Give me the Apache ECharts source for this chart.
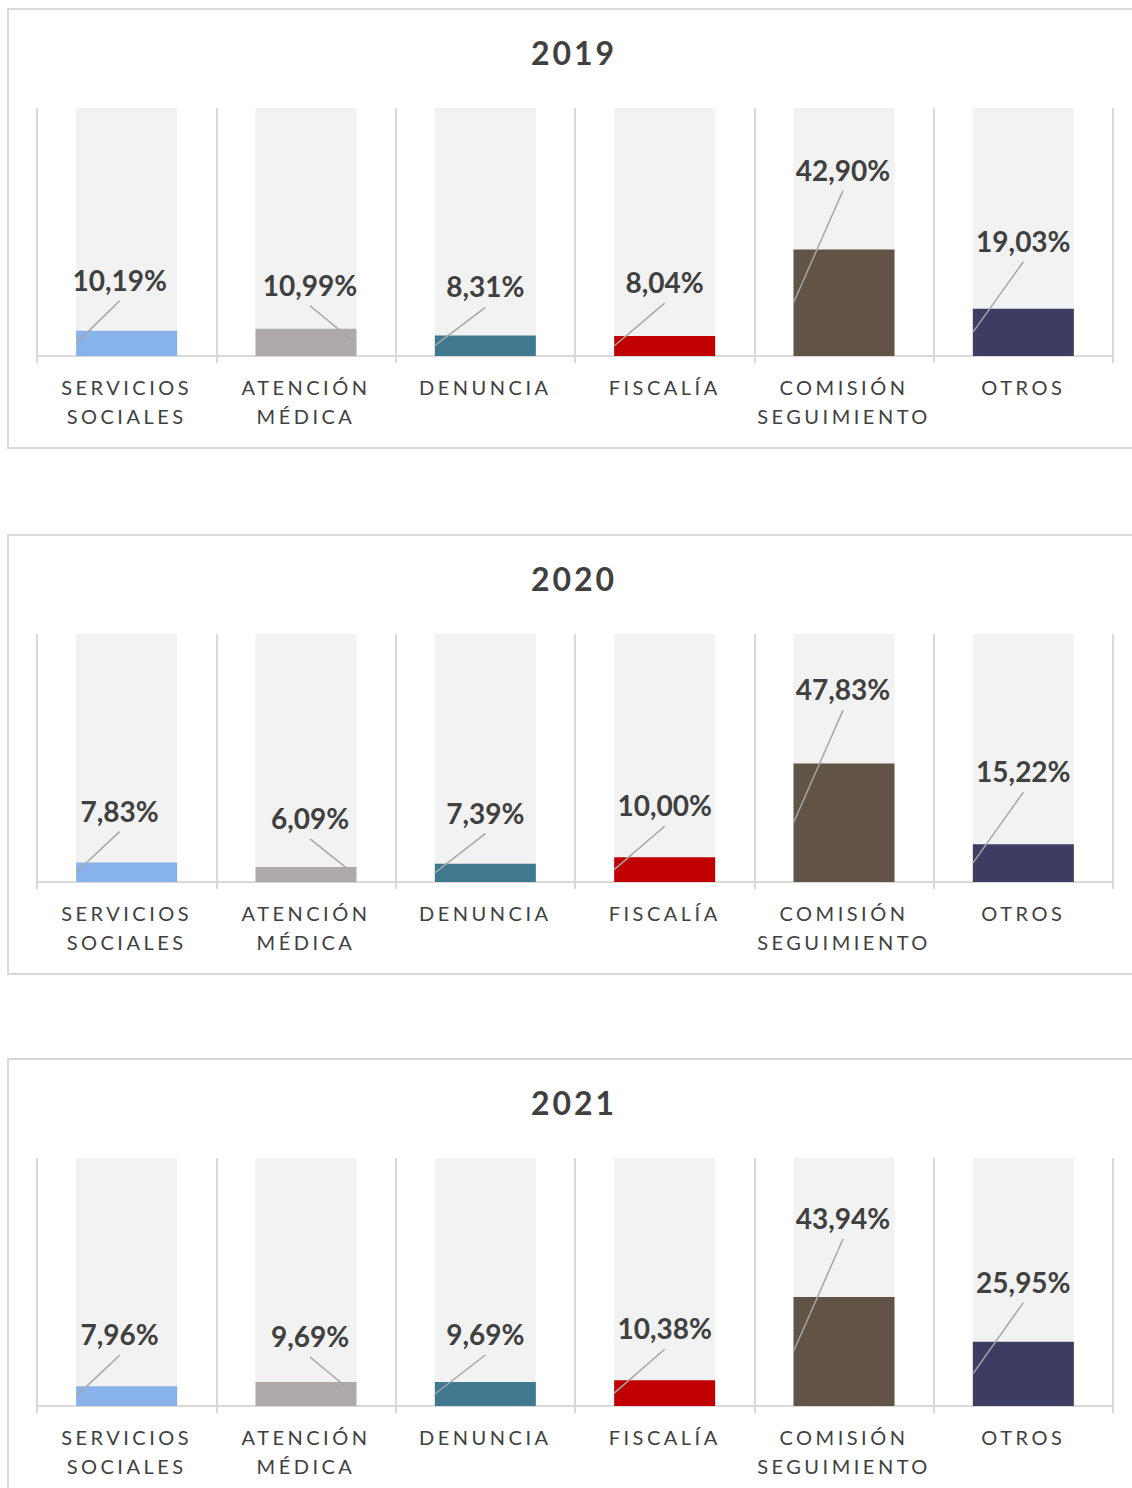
<!DOCTYPE html>
<html>
<head>
<meta charset="utf-8">
<title>2019 - 2021</title>
<script src="https://cdn.jsdelivr.net/npm/echarts@6.0.0/dist/echarts.min.js"></script>
<style>
html, body {
  margin: 0;
  padding: 0;
  width: 1132px;
  height: 1488px;
  overflow: hidden;
  background: #ffffff;
}
.panel {
  position: absolute;
  left: 7px;
  width: 1130px;
  height: 437px;
  border: 2px solid #d9d9d9;
}
.panel .sort-charts {
  width: 100%;
  height: 100%;
}
/* echarts has no letter spacing option, the svg text takes it from css */
.sort-charts text[style*="tracking-title"] {
  letter-spacing: 3px;
}
.sort-charts text[style*="tracking-axis"] {
  letter-spacing: 3.5px;
}
</style>
</head>
<body>
<div class="panel" style="top:8px"><div id="charts-2019" class="sort-charts"></div></div>
<div class="panel" style="top:534px"><div id="charts-2020" class="sort-charts"></div></div>
<div class="panel" style="top:1058px"><div id="charts-2021" class="sort-charts"></div></div>
<script>
const categories = ['SERVICIOS\nSOCIALES', 'ATENCIÓN\nMÉDICA', 'DENUNCIA', 'FISCALÍA', 'COMISIÓN\nSEGUIMIENTO', 'OTROS']
const years = ['2019', '2020', '2021']
const values2019 = [10.19, 10.99, 8.31, 8.04, 42.90, 19.03]
const values2020 = [7.83, 6.09, 7.39, 10.00, 47.83, 15.22]
const values2021 = [7.96, 9.69, 9.69, 10.38, 43.94, 25.95]
const barColors = ['#87b2ea', '#aeaaaa', '#407890', '#c00000', '#615345', '#3d3c63']

// where the data labels sit (px above the bar top), as placed by hand in the original
const labelLift2019 = [51, 44, 49, 54, 80, 68]
const labelLift2020 = [52, 49, 51, 52, 74, 73]
const labelLift2021 = [52, 46, 48, 52, 79, 60]
const labelShift = [-7, 4, 0, 0, -1, 0]
const lineSide = [-1, 1, -1, -1, -1, -1] // -1 leader line to left edge, 1 to right edge

const BAR_WIDTH = 101
const TEXT_COLOR = '#404040'

function formatPct(v) {
  return v.toFixed(2).replace('.', ',') + '%'
}

function getBarCharts(idName, year, values, lift) {
  const charts = echarts.init(document.getElementById(idName), null, { renderer: 'svg' })
  charts.setOption({
    animation: false,
    title: {
      text: year,
      left: 'center',
      top: 21,
      textStyle: {
        color: TEXT_COLOR,
        fontSize: 32,
        fontWeight: 'bold',
        fontFamily: 'Lato, tracking-title'
      }
    },
    grid: {
      left: 28,
      top: 98,
      width: 1076,
      height: 248
    },
    xAxis: {
      type: 'category',
      data: categories,
      axisLine: {
        lineStyle: { color: '#d9d9d9', width: 2 }
      },
      axisTick: {
        show: true,
        length: 7,
        lineStyle: { color: '#d9d9d9', width: 2 }
      },
      splitLine: {
        show: true,
        lineStyle: { color: '#d9d9d9', width: 2 }
      },
      axisLabel: {
        interval: 0, // 显示所有标签
        margin: 16,
        color: TEXT_COLOR,
        fontSize: 20,
        lineHeight: 29,
        fontFamily: 'Lato, tracking-axis'
      }
    },
    yAxis: {
      type: 'value',
      min: 0,
      max: 100,
      show: false
    },
    series: [
      {
        type: 'bar',
        barWidth: BAR_WIDTH,
        showBackground: true,
        backgroundStyle: { color: '#f2f2f2' },
        data: values.map((v, i) => ({ value: v, itemStyle: { color: barColors[i] } }))
      },
      {
        type: 'custom',
        z: 5,
        data: values.map((v, i) => [i, v, lift[i]]),
        renderItem: function(params, api) {
          const i = api.value(0)
          const v = api.value(1)
          const top = api.coord([i, v])
          const base = api.coord([i, 0])
          const lx = top[0] + labelShift[i]
          const ly = top[1] - api.value(2)
          const ex = lineSide[i] < 0 ? top[0] - BAR_WIDTH / 2 : top[0] + BAR_WIDTH / 2 - 2
          const ey = (top[1] + base[1]) / 2
          return {
            type: 'group',
            children: [
              {
                type: 'line',
                shape: { x1: lx, y1: ly + 21, x2: ex, y2: ey },
                style: { stroke: '#a6a6a6', lineWidth: 1.5 }
              },
              {
                type: 'text',
                style: {
                  text: formatPct(v),
                  x: lx,
                  y: ly,
                  align: 'center',
                  verticalAlign: 'middle',
                  fill: TEXT_COLOR,
                  fontSize: 28,
                  fontWeight: 'bold',
                  fontFamily: 'Lato'
                }
              }
            ]
          }
        }
      }
    ]
  })
}

getBarCharts('charts-2019', years[0], values2019, labelLift2019)
getBarCharts('charts-2020', years[1], values2020, labelLift2020)
getBarCharts('charts-2021', years[2], values2021, labelLift2021)
</script>
</body>
</html>
